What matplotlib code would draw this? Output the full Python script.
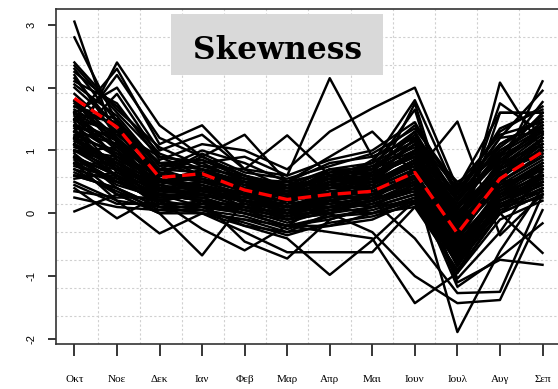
import numpy as np
import matplotlib
matplotlib.use("Agg")
import matplotlib.pyplot as plt
from matplotlib.patches import Rectangle

months = ["Οκτ", "Νοε", "Δεκ", "Ιαν", "Φεβ", "Μαρ", "Απρ", "Μαι", "Ιουν", "Ιουλ", "Αυγ", "Σεπ"]

# skewness per station / year, one row per line
skew_rows = [
    [3.05, 1.10, 0.55, 0.40, 0.30, 0.10, 0.25, 0.40, 0.80, 0.10, 0.60, 1.20],
    [2.80, 1.45, 0.80, 0.70, 0.45, 0.30, 0.50, 0.55, 1.00, -0.10, 0.80, 1.40],
    [1.10, 2.40, 1.40, 0.90, 0.60, 0.35, 0.55, 0.60, 1.10, 0.10, 0.90, 1.60],
    [1.50, 2.30, 1.10, 1.40, 0.70, 0.40, 0.30, 0.50, 1.20, 0.20, 1.10, 1.50],
    [1.30, 2.20, 1.20, 0.90, 1.25, 0.50, 0.40, 0.65, 1.30, 0.00, 0.70, 2.10],
    [1.60, 2.00, 1.00, 1.25, 0.70, 1.24, 0.60, 0.80, 1.80, 0.30, 1.20, 1.95],
    [1.20, 1.90, 0.90, 0.80, 0.90, 0.60, 2.15, 0.90, 1.20, 0.50, 0.90, 1.77],
    [2.10, 1.75, 0.85, 1.10, 1.00, 0.70, 1.30, 1.67, 2.00, 0.40, 1.60, 1.60],
    [1.70, 1.50, 0.70, 1.00, 0.80, 0.50, 0.90, 1.30, 0.63, 1.46, -0.35, 0.30],
    [1.60, 1.20, 0.60, 0.50, 0.40, 0.30, 0.60, 0.70, 1.65, -0.50, 2.08, 1.00],
    [1.50, 1.30, 0.50, 0.60, 0.50, 0.20, 0.50, 0.60, 0.90, -0.20, 1.75, 1.27],
    [1.40, 1.10, 0.40, 0.30, 0.20, 0.00, 0.30, 0.40, 1.75, -0.40, 1.60, 1.60],
    [0.03, 0.30, 0.20, 0.30, 0.10, 0.00, 0.10, 0.20, 0.50, -0.60, 0.30, 0.60],
    [0.40, -0.08, 0.30, 0.10, 0.00, -0.20, -0.10, 0.10, 0.30, -0.70, 0.20, 0.50],
    [0.80, 0.20, -0.32, 0.00, -0.10, -0.30, 0.00, 0.20, 0.40, -0.80, 0.10, 0.40],
    [0.60, 0.40, 0.00, -0.67, 0.20, -0.10, 0.10, 0.00, 0.20, -0.50, 0.40, 0.70],
    [0.90, 0.50, 0.20, -0.25, -0.59, -0.20, -0.20, 0.00, 0.10, -0.90, 0.00, 0.30],
    [1.00, 0.60, 0.10, 0.20, -0.45, -0.72, -0.10, 0.10, 0.30, -0.60, 0.30, 0.80],
    [0.70, 0.30, 0.00, 0.10, -0.20, -0.40, -0.98, -0.43, 0.20, -0.70, 0.10, 0.60],
    [0.50, 0.20, 0.10, 0.00, -0.30, -0.62, -0.62, -0.62, 0.10, -0.50, 0.20, 0.50],
    [0.80, 0.50, 0.20, 0.10, 0.00, -0.20, -0.30, -0.40, -1.43, -0.95, 0.30, 0.60],
    [1.10, 0.70, 0.30, 0.20, 0.10, -0.10, 0.00, -0.30, -1.00, -1.43, -1.38, 0.05],
    [0.90, 0.60, 0.30, 0.30, 0.20, 0.10, 0.20, 0.10, 0.46, -1.89, -0.60, 0.40],
    [1.20, 0.80, 0.40, 0.30, 0.10, 0.00, 0.10, 0.20, -0.40, -1.27, -1.25, 0.30],
    [1.00, 0.70, 0.40, 0.30, 0.20, 0.10, 0.20, 0.30, 0.50, -1.10, -0.74, -0.82],
    [1.30, 0.90, 0.50, 0.40, 0.30, 0.20, 0.30, 0.40, 0.70, -0.60, 0.00, -0.63],
    [0.90, 0.50, 0.30, 0.20, 0.10, 0.00, 0.10, 0.20, 0.40, -1.17, -0.70, -0.16],
    [1.10, 0.80, 0.40, 0.40, 0.20, 0.10, 0.20, 0.30, 0.60, -1.04, -0.30, 0.70],
    [0.60, 0.40, 0.10, 0.00, -0.20, -0.30, -0.20, -0.10, 0.20, -0.93, 0.00, 0.50],
    [1.80, 1.20, 0.60, 0.50, 0.30, 0.20, 0.40, 0.50, 0.80, 0.00, 0.60, 1.10],
    [1.60, 1.00, 0.50, 0.60, 0.40, 0.30, 0.20, 0.40, 0.70, -0.20, 0.50, 0.90],
    [1.50, 0.90, 0.40, 0.40, 0.20, 0.10, 0.30, 0.30, 0.60, -0.30, 0.40, 0.80],
    [1.30, 1.10, 0.70, 0.50, 0.50, 0.30, 0.50, 0.60, 0.90, 0.10, 0.70, 1.20],
    [1.20, 0.80, 0.30, 0.20, 0.10, 0.00, 0.20, 0.30, 0.50, -0.40, 0.30, 0.70],
    [1.10, 0.70, 0.50, 0.40, 0.30, 0.20, 0.40, 0.40, 0.70, -0.10, 0.60, 1.00],
    [1.00, 0.90, 0.60, 0.60, 0.40, 0.40, 0.60, 0.50, 1.00, 0.20, 0.90, 1.30],
    [0.90, 0.60, 0.20, 0.30, 0.20, 0.10, 0.10, 0.20, 0.40, -0.50, 0.20, 0.60],
    [0.80, 0.70, 0.40, 0.50, 0.30, 0.00, 0.30, 0.50, 0.80, -0.30, 0.50, 0.90],
    [0.70, 0.50, 0.30, 0.20, 0.00, -0.10, 0.00, 0.10, 0.30, -0.60, 0.10, 0.40],
    [2.00, 1.40, 0.80, 0.70, 0.60, 0.40, 0.70, 0.70, 1.10, 0.30, 1.00, 1.40],
    [1.90, 1.30, 0.90, 0.80, 0.50, 0.50, 0.80, 0.90, 1.20, 0.40, 1.10, 1.50],
    [1.70, 1.40, 0.60, 0.90, 0.60, 0.40, 0.60, 0.80, 1.30, 0.20, 1.20, 1.30],
    [1.40, 1.20, 0.50, 0.70, 0.40, 0.30, 0.40, 0.60, 1.10, 0.00, 0.80, 1.10],
    [1.30, 0.70, 0.20, 0.40, 0.30, 0.20, 0.50, 0.70, 1.00, -0.10, 0.70, 1.00],
    [1.20, 1.00, 0.40, 0.30, 0.20, 0.10, 0.20, 0.40, 0.60, -0.20, 0.40, 0.80],
    [1.00, 0.80, 0.30, 0.50, 0.50, 0.30, 0.70, 0.60, 0.90, -0.40, 0.60, 1.10],
    [0.95, 0.40, 0.10, 0.10, 0.10, -0.10, 0.10, 0.30, 0.50, -0.70, 0.30, 0.50],
    [0.85, 0.30, 0.00, 0.00, -0.10, -0.20, 0.20, 0.10, 0.20, -0.80, 0.00, 0.30],
    [0.60, 0.60, 0.20, 0.40, 0.10, 0.00, 0.00, 0.30, 0.60, -0.40, 0.50, 0.60],
    [1.55, 1.05, 0.65, 0.55, 0.35, 0.25, 0.35, 0.45, 0.85, -0.15, 0.55, 1.05],
    [1.25, 0.95, 0.45, 0.65, 0.45, 0.15, 0.45, 0.55, 0.75, -0.25, 0.65, 0.95],
    [1.05, 0.85, 0.55, 0.35, 0.25, 0.35, 0.25, 0.35, 0.65, -0.35, 0.45, 0.85],
    [2.05, 1.55, 0.75, 0.85, 0.55, 0.45, 0.55, 0.75, 1.15, 0.05, 0.95, 1.45],
    [1.75, 1.15, 0.35, 0.45, 0.15, 0.05, 0.15, 0.25, 0.55, -0.55, 0.35, 0.75],
    [1.45, 0.65, 0.25, 0.25, 0.35, 0.10, 0.35, 0.35, 0.45, -0.45, 0.25, 0.65],
    [0.75, 0.55, 0.45, 0.15, 0.05, -0.05, 0.05, 0.15, 0.35, -0.65, 0.15, 0.45],
    [1.15, 0.75, 0.15, 0.45, 0.25, 0.20, 0.30, 0.20, 0.70, -0.75, 0.20, 0.55],
    [1.65, 1.25, 0.70, 0.75, 0.55, 0.35, 0.65, 0.65, 0.95, 0.15, 0.85, 1.25],
    [2.35, 1.60, 0.90, 0.60, 0.45, 0.45, 0.45, 0.85, 1.40, 0.35, 1.30, 1.70],
    [2.25, 1.70, 0.95, 0.70, 0.50, 0.35, 0.60, 0.70, 1.25, 0.25, 1.05, 1.55],
    [2.15, 1.35, 0.60, 0.95, 0.65, 0.55, 0.75, 0.95, 1.35, 0.45, 1.25, 1.45],
    [2.40, 1.65, 1.05, 0.75, 0.70, 0.60, 0.85, 1.00, 1.45, 0.30, 1.35, 1.65],
    [2.30, 1.45, 0.65, 0.55, 0.35, 0.25, 0.45, 0.55, 0.95, -0.05, 0.75, 1.15],
    [1.78, 1.05, 0.45, 0.35, 0.25, 0.15, 0.25, 0.45, 0.75, -0.25, 0.50, 0.95],
    [1.62, 0.85, 0.35, 0.50, 0.40, 0.25, 0.55, 0.50, 0.85, -0.45, 0.60, 1.20],
    [1.48, 1.15, 0.55, 0.45, 0.30, 0.30, 0.30, 0.60, 0.95, -0.15, 0.85, 1.35],
    [1.35, 0.55, 0.15, 0.15, 0.15, -0.05, 0.20, 0.30, 0.55, -0.55, 0.30, 0.60],
    [1.22, 1.30, 0.80, 0.60, 0.55, 0.50, 0.65, 0.75, 1.05, 0.10, 1.00, 1.40],
    [1.08, 0.60, 0.30, 0.25, 0.05, -0.15, 0.05, 0.20, 0.45, -0.85, 0.15, 0.35],
    [0.98, 1.05, 0.70, 0.65, 0.50, 0.40, 0.55, 0.65, 0.90, 0.00, 0.75, 1.25],
    [0.88, 0.45, 0.25, 0.35, 0.25, 0.10, 0.15, 0.25, 0.35, -0.60, 0.25, 0.55],
    [0.78, 0.80, 0.50, 0.55, 0.35, 0.25, 0.40, 0.45, 0.80, -0.20, 0.65, 1.00],
    [0.65, 0.35, 0.05, 0.05, -0.05, -0.25, -0.05, 0.05, 0.25, -0.75, 0.05, 0.35],
    [0.55, 0.65, 0.35, 0.30, 0.20, 0.05, 0.25, 0.35, 0.55, -0.35, 0.45, 0.70],
    [0.45, 0.15, 0.15, 0.05, -0.15, -0.35, -0.15, -0.05, 0.15, -0.95, -0.10, 0.20],
    [0.35, 0.25, 0.25, 0.25, 0.05, -0.05, 0.05, 0.15, 0.40, -0.55, 0.20, 0.45],
    [0.25, 0.10, 0.05, 0.15, 0.00, -0.20, -0.05, 0.00, 0.25, -0.80, 0.10, 0.25],
    [2.20, 1.20, 0.50, 0.40, 0.35, 0.30, 0.50, 0.55, 1.00, -0.05, 0.80, 1.30],
    [1.58, 1.45, 0.80, 0.85, 0.60, 0.45, 0.70, 0.80, 1.15, 0.20, 0.95, 1.35],
    [1.38, 0.95, 0.60, 0.55, 0.40, 0.35, 0.45, 0.50, 0.85, -0.10, 0.70, 1.10],
    [1.18, 0.75, 0.35, 0.35, 0.20, 0.05, 0.15, 0.25, 0.60, -0.50, 0.35, 0.75],
]

# average curve (red dashed)
mean_skew = [1.83, 1.37, 0.57, 0.63, 0.37, 0.22, 0.30, 0.35, 0.65, -0.32, 0.55, 0.98]

x = np.arange(1, len(months) + 1)

fig = plt.figure(figsize=(5.58, 3.89), dpi=100)
ax = fig.add_axes([0.0998, 0.1157, 0.906, 0.861])

for row in skew_rows:
    ax.plot(x, row, color="black", lw=1.75, zorder=3)
ax.plot(x, mean_skew, color="red", lw=2.4, ls=(0, (4, 2)), zorder=4)

ax.set_xlim(0.56, 12.44)
ax.set_ylim(-2.08, 3.25)

# R style grid: 12 x 12 equal cells
x0, x1 = ax.get_xlim()
y0, y1 = ax.get_ylim()
for k in range(1, 12):
    ax.axvline(x0 + k * (x1 - x0) / 12, color="#d0d0d0", lw=0.8, ls=(0, (2, 2)), zorder=1)
    ax.axhline(y0 + k * (y1 - y0) / 12, color="#d0d0d0", lw=0.8, ls=(0, (2, 2)), zorder=1)

ax.set_xticks(x)
ax.set_xticklabels(months, fontfamily="Liberation Serif", fontsize=8)
ax.set_yticks([-2, -1, 0, 1, 2, 3])
ax.set_yticklabels(["-2", "-1", "0", "1", "2", "3"], rotation=90, va="center",
                   fontfamily="Liberation Sans", fontsize=8)
ax.tick_params(axis="x", length=8.5, width=1.1, pad=14)
ax.tick_params(axis="y", length=6, width=1.1, pad=8)

for side in ["left", "bottom", "top", "right"]:
    ax.spines[side].set_color("#333333")
    ax.spines[side].set_linewidth(1.2)

# title box
ax.add_patch(Rectangle((0.228, 0.803), 0.419, 0.182, transform=ax.transAxes,
                       fc="#d9d9d9", ec="none", zorder=5))
ax.text(0.438, 0.851, "Skewness", transform=ax.transAxes, ha="center", va="baseline",
        fontfamily="DejaVu Serif", fontweight="bold", fontsize=22.5, zorder=6)

fig.savefig("out.png", dpi=100)
